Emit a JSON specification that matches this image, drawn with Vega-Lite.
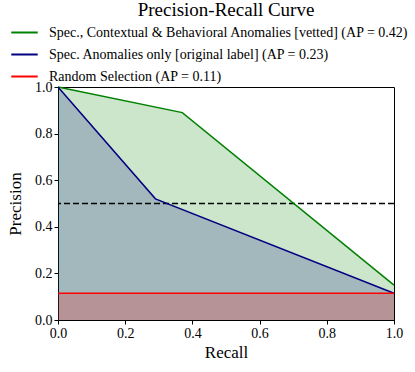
{
  "$schema": "https://vega.github.io/schema/vega-lite/v6.json",
  "autosize": "none",
  "width": 336,
  "height": 233,
  "padding": {"left": 58, "top": 87, "right": 21, "bottom": 52},
  "background": "white",
  "config": {
    "font": "Liberation Serif",
    "view": {"stroke": "black", "strokeWidth": 1},
    "axis": {"grid": false, "domainColor": "black", "tickColor": "black", "labelColor": "black", "titleColor": "black", "labelFont": "Liberation Serif", "titleFont": "Liberation Serif", "labelFontSize": 14, "titleFontSize": 17, "titleFontWeight": "normal", "tickSize": 4, "labelPadding": 2, "labelFlush": false}
  },
  "title": {"text": "Precision-Recall Curve", "fontSize": 19, "fontWeight": "normal", "font": "Liberation Serif", "color": "black", "anchor": "middle", "offset": -2},
  "data": {"values": [
    {"series": "Spec., Contextual & Behavioral Anomalies [vetted] (AP = 0.42)", "recall": 0.0, "precision": 1.0},
    {"series": "Spec., Contextual & Behavioral Anomalies [vetted] (AP = 0.42)", "recall": 0.37, "precision": 0.89},
    {"series": "Spec., Contextual & Behavioral Anomalies [vetted] (AP = 0.42)", "recall": 1.0, "precision": 0.15},
    {"series": "Spec. Anomalies only [original label] (AP = 0.23)", "recall": 0.0, "precision": 1.0},
    {"series": "Spec. Anomalies only [original label] (AP = 0.23)", "recall": 0.29, "precision": 0.52},
    {"series": "Spec. Anomalies only [original label] (AP = 0.23)", "recall": 1.0, "precision": 0.115},
    {"series": "Random Selection (AP = 0.11)", "recall": 0.0, "precision": 0.115},
    {"series": "Random Selection (AP = 0.11)", "recall": 1.0, "precision": 0.115}
  ]},
  "layer": [
    {
      "transform": [{"filter": "datum.series == 'Spec., Contextual & Behavioral Anomalies [vetted] (AP = 0.42)'"}],
      "mark": {"type": "area", "color": "green", "opacity": 0.2},
      "encoding": {
        "x": {"field": "recall", "type": "quantitative", "scale": {"domain": [0, 1]}},
        "y": {"field": "precision", "type": "quantitative", "scale": {"domain": [0, 1]}}
      }
    },
    {
      "transform": [{"filter": "datum.series == 'Spec. Anomalies only [original label] (AP = 0.23)'"}],
      "mark": {"type": "area", "color": "navy", "opacity": 0.2},
      "encoding": {
        "x": {"field": "recall", "type": "quantitative"},
        "y": {"field": "precision", "type": "quantitative"}
      }
    },
    {
      "transform": [{"filter": "datum.series == 'Random Selection (AP = 0.11)'"}],
      "mark": {"type": "area", "color": "red", "opacity": 0.2},
      "encoding": {
        "x": {"field": "recall", "type": "quantitative"},
        "y": {"field": "precision", "type": "quantitative"}
      }
    },
    {
      "data": {"values": [{"p": 0.5}]},
      "mark": {"type": "rule", "color": "black", "strokeDash": [6, 3], "strokeWidth": 1.5},
      "encoding": {"y": {"field": "p", "type": "quantitative"}}
    },
    {
      "mark": {"type": "line", "strokeWidth": 1.5},
      "encoding": {
        "x": {"field": "recall", "type": "quantitative", "title": "Recall", "axis": {"values": [0, 0.2, 0.4, 0.6, 0.8, 1.0], "format": ".1f", "titlePadding": 4}},
        "y": {"field": "precision", "type": "quantitative", "title": "Precision", "axis": {"values": [0, 0.2, 0.4, 0.6, 0.8, 1.0], "format": ".1f", "titlePadding": 10}},
        "color": {
          "field": "series", "type": "nominal",
          "scale": {"domain": ["Spec., Contextual & Behavioral Anomalies [vetted] (AP = 0.42)", "Spec. Anomalies only [original label] (AP = 0.23)", "Random Selection (AP = 0.11)"], "range": ["green", "navy", "red"]},
          "legend": {"title": null, "orient": "none", "legendX": -48, "legendY": -69, "symbolType": "stroke", "symbolSize": 700, "symbolStrokeWidth": 2, "labelFontSize": 14, "labelFont": "Liberation Serif", "labelColor": "black", "labelLimit": 0, "rowPadding": -10, "labelOffset": 10}
        }
      }
    }
  ]
}
